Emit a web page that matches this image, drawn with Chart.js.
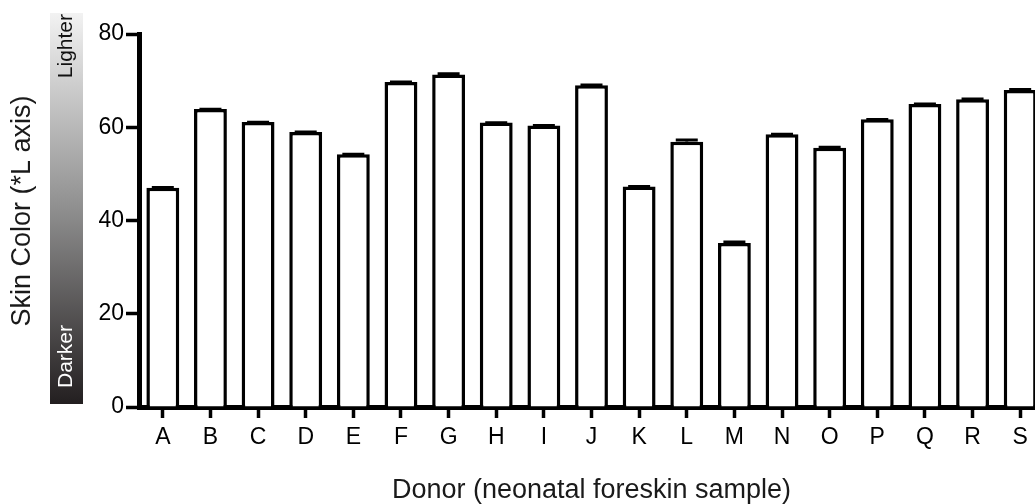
<!DOCTYPE html>
<html>
<head>
<meta charset="utf-8">
<script src="https://cdn.jsdelivr.net/npm/chart.js@4"></script>
<style>
html,body{margin:0;padding:0;overflow:hidden;background:#fff;width:1035px;height:504px;}
canvas{display:block;}
</style>
</head>
<body>
<canvas id="c" width="1045" height="504"></canvas>
<script>
const categories = ["A","B","C","D","E","F","G","H","I","J","K","L","M","N","O","P","Q","R","S"];
const skinL = [47.0,63.9,61.1,59.0,54.2,69.7,71.3,61.0,60.4,69.0,47.3,56.9,35.2,58.5,55.6,61.7,65.0,66.0,68.0];
const skinErr = [0.3,0.2,0.2,0.2,0.2,0.2,0.4,0.2,0.2,0.3,0.2,0.6,0.4,0.2,0.3,0.2,0.2,0.3,0.3];
const yTicks = [0,20,40,60,80];
const yTitle = "Skin Color (*L axis)";
const xTitle = "Donor (neonatal foreskin sample)";
const scaleLabels = {top: "Lighter", bottom: "Darker"};

const FONT = "'Liberation Sans', Arial, Helvetica, sans-serif";

const colorBarPlugin = {
  id: 'colorBar',
  beforeDraw(chart) {
    const ctx = chart.ctx;
    const x0 = 50, x1 = 83, y0 = 13, y1 = 404;
    ctx.save();
    const g = ctx.createLinearGradient(0, y0, 0, y1);
    g.addColorStop(0, '#f2f2f2');
    g.addColorStop(0.5, '#8f8f8f');
    g.addColorStop(1, '#231f20');
    ctx.fillStyle = g;
    ctx.fillRect(x0, y0, x1 - x0, y1 - y0);
    ctx.font = "21px " + FONT;
    ctx.textBaseline = 'middle';
    ctx.save();
    ctx.translate(66, y0 + 1);
    ctx.rotate(-Math.PI / 2);
    ctx.textAlign = 'right';
    ctx.fillStyle = '#111';
    ctx.fillText(scaleLabels.top, 0, 0);
    ctx.restore();
    ctx.save();
    ctx.translate(66, y1 - 16);
    ctx.rotate(-Math.PI / 2);
    ctx.textAlign = 'left';
    ctx.fillStyle = '#fff';
    ctx.fillText(scaleLabels.bottom, 0, 0);
    ctx.restore();
    // y axis title
    ctx.save();
    ctx.translate(23, 211);
    ctx.rotate(-Math.PI / 2);
    ctx.textAlign = 'center';
    ctx.textBaseline = 'middle';
    ctx.fillStyle = '#1a1a1a';
    ctx.font = "27px " + FONT;
    ctx.fillText(yTitle, 0, 0);
    ctx.restore();
    ctx.restore();
  }
};

const errorBarPlugin = {
  id: 'errorBars',
  afterDatasetsDraw(chart) {
    const ctx = chart.ctx;
    const meta = chart.getDatasetMeta(0);
    const ys = chart.scales.y;
    ctx.save();
    ctx.strokeStyle = '#000';
    ctx.lineWidth = 3;
    meta.data.forEach((bar, i) => {
      const x = bar.x;
      const yv = ys.getPixelForValue(skinL[i]);
      const ye = ys.getPixelForValue(skinL[i] + skinErr[i]);
      ctx.beginPath();
      ctx.moveTo(x, yv);
      ctx.lineTo(x, ye);
      ctx.moveTo(x - 11, ye + 1);
      ctx.lineTo(x + 11, ye + 1);
      ctx.stroke();
    });
    ctx.restore();
  }
};

new Chart(document.getElementById('c'), {
  type: 'bar',
  data: {
    labels: categories,
    datasets: [{
      data: skinL,
      backgroundColor: '#ffffff',
      borderColor: '#000000',
      borderWidth: 3.5,
      borderSkipped: 'bottom',
      categoryPercentage: 1.0,
      barPercentage: 0.69
    }]
  },
  options: {
    responsive: false,
    animation: false,
    events: [],
    layout: { padding: { top: 34, right: 1, left: 0, bottom: 0 } },
    plugins: { legend: { display: false }, tooltip: { enabled: false } },
    scales: {
      x: {
        offset: true,
        grid: { offset: false, drawOnChartArea: false, drawTicks: true, tickLength: 11, tickWidth: 3.5, tickColor: '#000' },
        border: { display: true, color: '#000', width: 5 },
        ticks: { color: '#000', font: { family: FONT, size: 23 }, padding: 6, maxRotation: 0, autoSkip: false },
        title: { display: true, text: xTitle, color: '#1a1a1a', font: { family: FONT, size: 27, lineHeight: 1 }, padding: { top: 0, bottom: 0 } },
        afterFit(s) { s.height = 97; }
      },
      y: {
        min: 0, max: 80,
        afterBuildTicks(s) { s.ticks = yTicks.map(v => ({ value: v })); },
        grid: { drawOnChartArea: false, drawTicks: true, tickLength: 13, tickWidth: 3.5, tickColor: '#000' },
        border: { display: true, color: '#000', width: 5 },
        ticks: { color: '#000', font: { family: FONT, size: 23 }, padding: 2 },
        title: { display: false },
        afterFit(s) { s.width = 139; }
      }
    }
  },
  plugins: [colorBarPlugin, errorBarPlugin]
});
</script>
</body>
</html>
